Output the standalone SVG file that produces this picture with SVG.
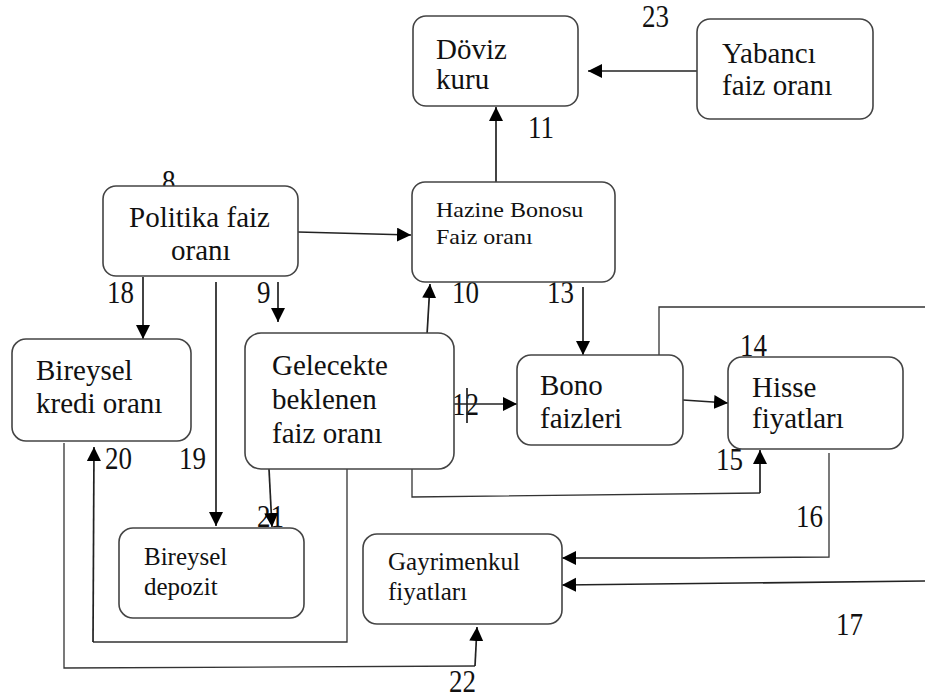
<svg xmlns="http://www.w3.org/2000/svg" width="925" height="699" viewBox="0 0 925 699">
  <style>
    .box { fill: #ffffff; stroke: #444444; stroke-width: 1.6; }
    .lbl { font-family: "Liberation Serif", "Times New Roman", serif; font-size: 29px; fill: #111111; }
    .sm  { font-family: "Liberation Serif", "Times New Roman", serif; font-size: 25px; fill: #111111; }
    .xs  { font-family: "Liberation Serif", "Times New Roman", serif; font-size: 24px; fill: #111111; }
    .num { font-family: "Liberation Serif", "Times New Roman", serif; font-size: 27px; fill: #111111; }
    .wire { fill: none; stroke: #222222; stroke-width: 1.7; }
    .thin { fill: none; stroke: #333333; stroke-width: 1.3; }
  </style>
  <defs>
    <marker id="arrow" markerUnits="userSpaceOnUse" markerWidth="15" markerHeight="15" refX="14" refY="7" orient="auto">
      <path d="M0,0 L14,7 L0,14 z" fill="#000000"/>
    </marker>
  </defs>
  <rect width="925" height="699" fill="#ffffff"/>

  <!-- edge numbers (slightly tall glyphs) -->
  <g id="edge-numbers">
    <text class="num" transform="translate(162 192) scale(1 1.15)">8</text>
    <text class="num" transform="translate(642 27) scale(1 1.15)">23</text>
    <text class="num" transform="translate(528 138) scale(1 1.15)">11</text>
    <text class="num" transform="translate(107 303) scale(1 1.15)">18</text>
    <text class="num" transform="translate(257 303) scale(1 1.15)">9</text>
    <text class="num" transform="translate(452 303) scale(1 1.15)">10</text>
    <text class="num" transform="translate(547 303) scale(1 1.15)">13</text>
    <text class="num" transform="translate(740 356) scale(1 1.15)">14</text>
    <text class="num" transform="translate(452 415) scale(1 1.15)">12</text>
    <text class="num" transform="translate(716 470) scale(1 1.15)">15</text>
    <text class="num" transform="translate(105 469) scale(1 1.15)">20</text>
    <text class="num" transform="translate(179 469) scale(1 1.15)">19</text>
    <text class="num" transform="translate(796 527) scale(1 1.15)">16</text>
    <text class="num" transform="translate(257 527) scale(1 1.15)">21</text>
    <text class="num" transform="translate(836 635) scale(1 1.15)">17</text>
    <text class="num" transform="translate(449 692) scale(1 1.15)">22</text>
  </g>

  <!-- connectors -->
  <g id="connectors">
    <line class="wire" x1="697" y1="71" x2="588" y2="71" marker-end="url(#arrow)"/>
    <line class="wire" x1="496" y1="182" x2="496" y2="107" marker-end="url(#arrow)"/>
    <line class="wire" x1="298" y1="232" x2="411" y2="235" marker-end="url(#arrow)"/>
    <line class="wire" x1="143" y1="277" x2="143" y2="339" marker-end="url(#arrow)"/>
    <line class="wire" x1="216" y1="282" x2="216" y2="526" marker-end="url(#arrow)"/>
    <line class="wire" x1="278" y1="282" x2="278" y2="322" marker-end="url(#arrow)"/>
    <line class="wire" x1="427" y1="335" x2="430" y2="284" marker-end="url(#arrow)"/>
    <line class="wire" x1="583" y1="287" x2="583" y2="355" marker-end="url(#arrow)"/>
    <line class="wire" x1="454" y1="404" x2="517" y2="404" marker-end="url(#arrow)"/>
    <line class="wire" x1="467" y1="388" x2="467" y2="423"/>
    <line class="wire" x1="683" y1="400" x2="728" y2="403" marker-end="url(#arrow)"/>
    <polyline class="thin" points="412,469 412,497 760,493"/>
    <line class="wire" x1="760" y1="493" x2="760" y2="450" marker-end="url(#arrow)"/>
    <polyline class="thin" points="659,355 659,307 925,307"/>
    <polyline class="thin" points="829,453 829,557 700,558"/>
    <line class="wire" x1="700" y1="558" x2="562" y2="558" marker-end="url(#arrow)"/>
    <line class="wire" x1="925" y1="581" x2="562" y2="585" marker-end="url(#arrow)"/>
    <line class="wire" x1="269" y1="469" x2="272" y2="527" marker-end="url(#arrow)"/>
    <polyline class="thin" points="347,469 347,642 93,642"/>
    <line class="wire" x1="93" y1="642" x2="94" y2="447" marker-end="url(#arrow)"/>
    <polyline class="thin" points="64,443 64,668 475,666"/>
    <line class="wire" x1="475" y1="666" x2="477" y2="627" marker-end="url(#arrow)"/>
  </g>

  <!-- nodes -->
  <g id="doviz-kuru">
    <rect class="box" x="413" y="16" width="165" height="90" rx="13"/>
    <text class="lbl" x="436" y="59">Döviz</text>
    <text class="lbl" x="436" y="89">kuru</text>
  </g>
  <g id="yabanci-faiz">
    <rect class="box" x="697" y="19" width="176" height="100" rx="13"/>
    <text class="lbl" x="722" y="63">Yabancı</text>
    <text class="lbl" x="722" y="95">faiz oranı</text>
  </g>
  <g id="politika-faiz">
    <rect class="box" x="103" y="186" width="195" height="90" rx="13"/>
    <text class="lbl" x="129" y="227">Politika faiz</text>
    <text class="lbl" x="171" y="260">oranı</text>
  </g>
  <g id="hazine-bonosu">
    <rect class="box" x="412" y="182" width="203" height="100" rx="13"/>
    <text class="xs" transform="translate(436 217) scale(1 0.88)">Hazine Bonosu</text>
    <text class="xs" transform="translate(436 244) scale(1 0.88)">Faiz oranı</text>
  </g>
  <g id="bireysel-kredi">
    <rect class="box" x="12" y="339" width="179" height="102" rx="14"/>
    <text class="lbl" x="36" y="380">Bireysel</text>
    <text class="lbl" x="36" y="413">kredi oranı</text>
  </g>
  <g id="gelecekte-beklenen">
    <rect class="box" x="245" y="333" width="209" height="136" rx="16"/>
    <text class="lbl" x="272" y="375">Gelecekte</text>
    <text class="lbl" x="272" y="409">beklenen</text>
    <text class="lbl" x="272" y="443">faiz oranı</text>
  </g>
  <g id="bono-faizleri">
    <rect class="box" x="517" y="355" width="166" height="90" rx="14"/>
    <text class="lbl" x="540" y="395">Bono</text>
    <text class="lbl" x="540" y="428">faizleri</text>
  </g>
  <g id="hisse-fiyatlari">
    <rect class="box" x="728" y="357" width="175" height="92" rx="14"/>
    <text class="lbl" x="752" y="397">Hisse</text>
    <text class="lbl" x="752" y="428">fiyatları</text>
  </g>
  <g id="bireysel-depozit">
    <rect class="box" x="119" y="528" width="185" height="90" rx="14"/>
    <text class="sm" x="144" y="565">Bireysel</text>
    <text class="sm" x="144" y="595">depozit</text>
  </g>
  <g id="gayrimenkul">
    <rect class="box" x="363" y="534" width="199" height="90" rx="14"/>
    <text class="sm" x="388" y="570">Gayrimenkul</text>
    <text class="sm" x="388" y="600">fiyatları</text>
  </g>
</svg>
